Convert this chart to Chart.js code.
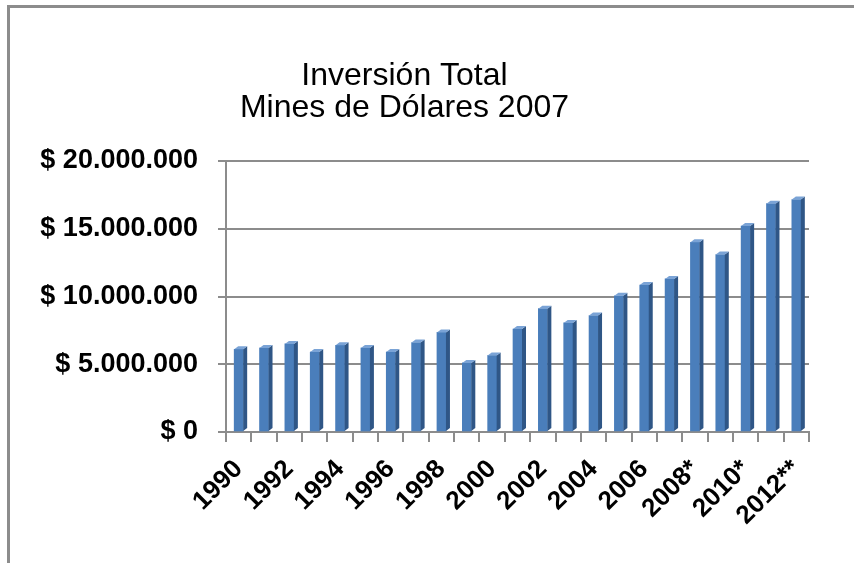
<!DOCTYPE html>
<html>
<head>
<meta charset="utf-8">
<script src="https://cdn.jsdelivr.net/npm/chart.js@4/dist/chart.umd.min.js"></script>
<style>
  body { margin: 0; background: #fff; }
  #wrap { position: relative; width: 854px; height: 563px; overflow: hidden; }
  #frame { position: absolute; left: 7px; top: 5px; width: 900px; height: 600px;
           border-left: 3px solid #8c8c8c; border-top: 3px solid #8c8c8c; pointer-events: none; }
</style>
</head>
<body>
<div id="wrap">
  <canvas id="chart" width="854" height="563"></canvas>
  <div id="frame"></div>
</div>
<script>
const years = ['1990', '1991', '1992', '1993', '1994', '1995', '1996', '1997', '1998', '1999',
    '2000', '2001', '2002', '2003', '2004', '2005', '2006', '2007',
    '2008*', '2009*', '2010*', '2011*', '2012**'];
const inversion = [6100000, 6200000, 6500000, 5900000, 6400000, 6200000, 5900000, 6600000, 7350000, 5100000,
    5650000, 7600000, 9100000, 8050000, 8600000, 10050000, 10850000, 11300000,
    14000000, 13100000, 15200000, 16850000, 17150000];
const titleLines = ['Inversión Total', 'Mines de Dólares 2007'];
const yMax = 20000000;
const yStep = 5000000;

function formatPesos(v) {
    if (v === 0) return '$ 0';
    return '$ ' + String(v).replace(/\B(?=(\d{3})+(?!\d))/g, '.');
}

// fake the 3D side and top faces of each column
const depthPlugin = {
    id: 'depth',
    afterDatasetsDraw(chart) {
        const ctx = chart.ctx;
        const meta = chart.getDatasetMeta(0);
        const d = 4, dy = 3;
        meta.data.forEach(bar => {
            const p = bar.getProps(['x', 'y', 'base', 'width'], true);
            const l = p.x - p.width / 2, r = p.x + p.width / 2;
            ctx.save();
            ctx.fillStyle = '#2f5686';
            ctx.beginPath();
            ctx.moveTo(r, p.y);
            ctx.lineTo(r + d, p.y - dy);
            ctx.lineTo(r + d, p.base - dy);
            ctx.lineTo(r, p.base);
            ctx.closePath();
            ctx.fill();
            ctx.fillStyle = '#7aa3d6';
            ctx.beginPath();
            ctx.moveTo(l, p.y);
            ctx.lineTo(l + d, p.y - dy);
            ctx.lineTo(r + d, p.y - dy);
            ctx.lineTo(r, p.y);
            ctx.closePath();
            ctx.fill();
            ctx.restore();
        });
    }
};

new Chart(document.getElementById('chart').getContext('2d'), {
    type: 'bar',
    data: {
        labels: years,
        datasets: [{
            label: 'Inversión',
            data: inversion,
            backgroundColor: '#4a7ebb',
            barThickness: 9
        }]
    },
    options: {
        responsive: false,
        animation: false,
        layout: { padding: { left: 0, right: 45, top: 0, bottom: 0 } },
        plugins: {
            legend: { display: false },
            tooltip: { enabled: false },
            title: {
                display: true,
                text: titleLines,
                color: '#000',
                font: { family: "'Liberation Sans', Arial, sans-serif", size: 32, weight: 'normal', lineHeight: 1.0 },
                padding: { top: 60, bottom: 37 }
            }
        },
        scales: {
            y: {
                min: 0,
                max: yMax,
                afterFit(scale) { scale.width = 226; },
                ticks: {
                    stepSize: yStep,
                    color: '#000',
                    padding: 20,
                    font: { family: "'Liberation Sans', Arial, sans-serif", size: 27, weight: 'bold' },
                    callback: v => formatPesos(v)
                },
                grid: { color: '#8c8c8c', lineWidth: 2, tickLength: 8 },
                border: { display: true, color: '#8c8c8c', width: 2 }
            },
            x: {
                afterFit(scale) { scale.height = 131; },
                ticks: {
                    autoSkip: false,
                    maxRotation: 45,
                    minRotation: 45,
                    color: '#000',
                    padding: 12,
                    font: { family: "'Liberation Sans', Arial, sans-serif", size: 26, weight: 'bold' },
                    callback: function (v, i) { return i % 2 === 0 ? this.getLabelForValue(v) : ''; }
                },
                grid: { display: true, drawOnChartArea: false, offset: true, color: '#8c8c8c', lineWidth: 2, tickLength: 10 },
                border: { display: true, color: '#8c8c8c', width: 2 }
            }
        }
    },
    plugins: [depthPlugin]
});
</script>
</body>
</html>
